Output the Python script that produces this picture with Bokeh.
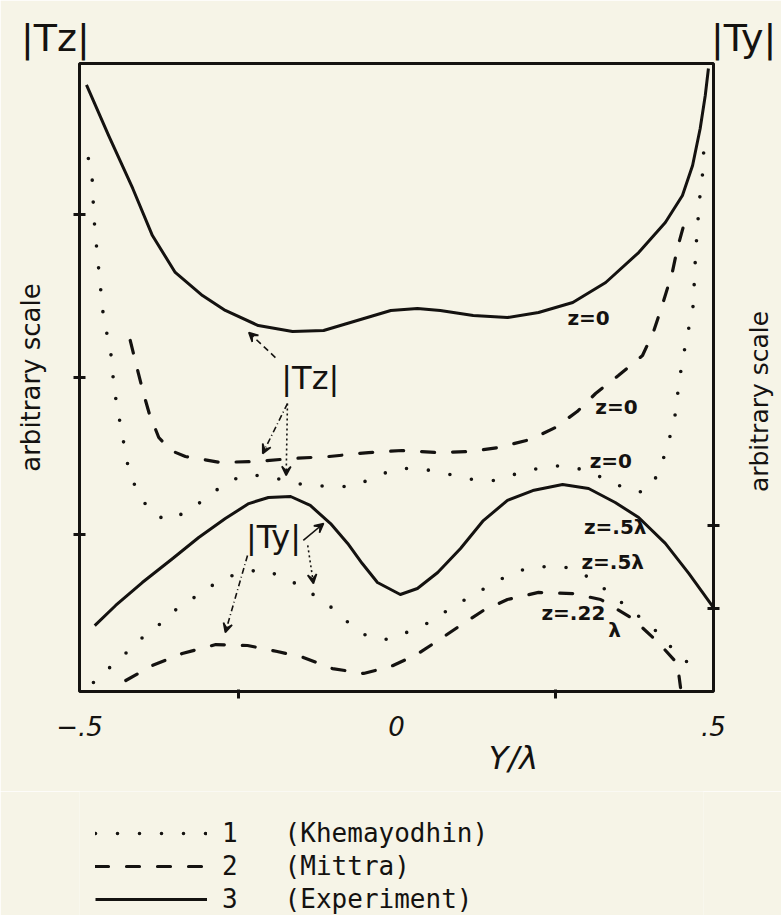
import math
from bokeh.plotting import figure
from bokeh.layouts import column
from bokeh.models import (Range1d, LinearAxis, FixedTicker, Label, Arrow, VeeHead,
                          Legend, LegendItem, ColumnDataSource)
from bokeh.core.properties import value
from bokeh.embed import file_html
from bokeh.resources import INLINE

# ---------------- data (Y/lambda vs arbitrary scale) ----------------
# |Tz|, z = 0, experiment (solid)
tz_exp_x = [-0.489, -0.454, -0.416, -0.385, -0.349, -0.306, -0.270, -0.218, -0.164, -0.115,
            -0.062, -0.009, 0.033, 0.069, 0.121, 0.175, 0.224, 0.278, 0.330, 0.382,
            0.424, 0.451, 0.467, 0.479, 0.487, 0.492]
tz_exp_y = [3.864, 3.541, 3.204, 2.904, 2.669, 2.522, 2.427, 2.331, 2.293, 2.299,
            2.363, 2.427, 2.439, 2.427, 2.395, 2.382, 2.414, 2.478, 2.605, 2.796,
            2.987, 3.159, 3.350, 3.586, 3.796, 3.968]

# |Tz|, z = 0, Khemayodhin (dotted)
tz_khe_x = [-0.486, -0.479, -0.478, -0.473, -0.468, -0.462, -0.451, -0.445, -0.435, -0.424,
            -0.418, -0.404, -0.386, -0.360, -0.331, -0.298, -0.267, -0.232, -0.196, -0.148,
            -0.107, -0.068, -0.028, 0.000, 0.038, 0.076, 0.120, 0.155, 0.191, 0.230,
            0.262, 0.293, 0.317, 0.341, 0.361, 0.382, 0.401, 0.416, 0.429, 0.440,
            0.445, 0.451, 0.459, 0.468, 0.472, 0.478, 0.483, 0.486]
tz_khe_y = [3.395, 3.236, 3.051, 2.828, 2.618, 2.376, 2.172, 1.917, 1.688, 1.446,
            1.357, 1.242, 1.134, 1.089, 1.146, 1.236, 1.338, 1.382, 1.363, 1.318,
            1.306, 1.306, 1.376, 1.420, 1.420, 1.389, 1.350, 1.344, 1.389, 1.427,
            1.439, 1.414, 1.376, 1.325, 1.299, 1.268, 1.299, 1.420, 1.586, 1.771,
            1.949, 2.108, 2.274, 2.459, 2.809, 3.134, 3.306, 3.567]

# |Tz|, z = 0, Mittra (dashed)
tz_mit_x = [-0.420, -0.407, -0.399, -0.390, -0.375, -0.356, -0.333, -0.278, -0.222, -0.164,
            -0.106, -0.044, 0.009, 0.063, 0.117, 0.161, 0.211, 0.251, 0.285, 0.314,
            0.350, 0.388, 0.405, 0.420, 0.435, 0.443, 0.456]
tz_mit_y = [2.236, 2.025, 1.898, 1.771, 1.618, 1.535, 1.497, 1.459, 1.465, 1.484,
            1.497, 1.522, 1.535, 1.522, 1.529, 1.554, 1.605, 1.682, 1.783, 1.898,
            2.013, 2.140, 2.287, 2.471, 2.669, 2.822, 3.013]

# |Ty|, z = .5 lambda, experiment (solid)
ty_exp_x = [-0.476, -0.443, -0.401, -0.353, -0.312, -0.270, -0.233, -0.202, -0.167, -0.136,
            -0.104, -0.077, -0.054, -0.030, 0.006, 0.033, 0.065, 0.101, 0.137, 0.175,
            0.215, 0.262, 0.303, 0.345, 0.382, 0.424, 0.461, 0.500]
ty_exp_y = [0.420, 0.548, 0.694, 0.847, 0.981, 1.102, 1.197, 1.236, 1.242, 1.185,
            1.070, 0.943, 0.815, 0.694, 0.618, 0.656, 0.758, 0.911, 1.089, 1.217,
            1.280, 1.318, 1.293, 1.204, 1.108, 0.943, 0.752, 0.535]

# |Ty|, z = .5 lambda, Khemayodhin (dotted)
ty_khe_x = [-0.478, -0.456, -0.432, -0.409, -0.379, -0.352, -0.319, -0.279, -0.246, -0.210,
            -0.170, -0.136, -0.098, -0.068, -0.043, -0.011, 0.011, 0.033, 0.060, 0.080,
            0.106, 0.136, 0.161, 0.185, 0.213, 0.237, 0.267, 0.298, 0.323, 0.355,
            0.404, 0.429, 0.459, 0.478]
ty_khe_y = [0.057, 0.140, 0.223, 0.318, 0.408, 0.510, 0.599, 0.707, 0.758, 0.777,
            0.713, 0.631, 0.522, 0.408, 0.344, 0.331, 0.369, 0.401, 0.459, 0.516,
            0.580, 0.650, 0.707, 0.758, 0.790, 0.796, 0.790, 0.739, 0.669, 0.567,
            0.408, 0.299, 0.185, 0.108]

# |Ty|, z = .22 lambda, Mittra (dashed)
ty_mit_x = [-0.427, -0.385, -0.338, -0.285, -0.235, -0.188, -0.147, -0.101, -0.052, -0.009,
            0.032, 0.068, 0.103, 0.137, 0.175, 0.224, 0.278, 0.322, 0.372, 0.413,
            0.443, 0.448]
ty_mit_y = [0.070, 0.166, 0.242, 0.299, 0.293, 0.255, 0.217, 0.146, 0.115, 0.159,
            0.236, 0.331, 0.427, 0.516, 0.586, 0.631, 0.624, 0.586, 0.465, 0.312,
            0.178, 0.025]

# axis ticks
x_ticks = [-0.5, 0.0, 0.5]
x_tick_labels = ["\u2212.5", "0", ".5"]
x_minor_ticks = [-0.25, 0.25]
left_ticks = [1.0, 2.0, 3.04]
right_ticks = [0.53, 1.06]
right_title_at = 1.27
corner_ticks = [-0.5, 0.5]
corner_labels = ["|Tz|" + "\u00a0" * 4, "\u00a0" * 5 + "|Ty|"]
x_title = "\u00a0" * 23 + "Y/\u03bb"
y_title = "arbitrary scale"

# curve annotations
ann_text = ["z=0", "z=0", "z=0", "z=.5\u03bb", "z=.5\u03bb", "z=.22", "\u03bb"]
ann_x = [0.303, 0.347, 0.338, 0.345, 0.341, 0.279, 0.344]
ann_y = [2.376, 1.809, 1.471, 1.045, 0.822, 0.497, 0.389]

# pointer arrows: (x_start, y_start, x_end, y_end, dash)
arrows = [
    (-0.191, 2.127, -0.233, 2.287, "6 4"),
    (-0.172, 1.834, -0.211, 1.516, "6 3 1 3"),
    (-0.172, 1.834, -0.174, 1.376, "2 3"),
    (-0.147, 0.962, -0.115, 1.070, "solid"),
    (-0.140, 0.930, -0.131, 0.688, "2 3"),
    (-0.235, 0.866, -0.270, 0.376, "6 3 1 3"),
]

legend_labels = ["1\u00a0\u00a0\u00a0(Khemayodhin)", "2\u00a0\u00a0\u00a0(Mittra)",
                 "3\u00a0\u00a0\u00a0(Experiment)"]

BG = "#f6f4e7"
INK = "#141210"
FONT = "DejaVu Sans"

p = figure(x_range=Range1d(-0.5, 0.5), y_range=Range1d(0, 4.0),
           frame_width=634, frame_height=628,
           min_border_left=79, min_border_right=68, min_border_top=63, min_border_bottom=100,
           output_backend="svg", toolbar_location=None, title=None,
           background_fill_color=BG, border_fill_color=BG,
           outline_line_color=INK, outline_line_width=3)
p.grid.visible = False

DOT = dict(line_dash="0 22", line_cap="round", line_width=3.6, line_color=INK)
DASH = dict(line_dash="13 18", line_cap="round", line_width=3.2, line_color=INK)
SOLID = dict(line_width=3, line_color=INK, line_join="round")

p.line(tz_khe_x, tz_khe_y, **DOT)
p.line(ty_khe_x, ty_khe_y, **DOT)
p.line(tz_mit_x, tz_mit_y, **DASH)
p.line(ty_mit_x, ty_mit_y, **DASH)
p.line(tz_exp_x, tz_exp_y, **SOLID)
p.line(ty_exp_x, ty_exp_y, **SOLID)

# bottom axis
xa = p.xaxis[0]
xa.ticker = FixedTicker(ticks=x_ticks, minor_ticks=x_minor_ticks)
xa.major_label_overrides = {t: l for t, l in zip(x_ticks, x_tick_labels)}
xa.axis_line_color = None
xa.major_tick_line_color = None
xa.major_tick_out = 7
xa.major_tick_in = 0
xa.minor_tick_line_color = INK
xa.minor_tick_line_width = 3
xa.minor_tick_out = 7
xa.minor_tick_in = 2
xa.major_label_standoff = 17
xa.major_label_text_font = FONT
xa.major_label_text_font_size = "26px"
xa.major_label_text_font_style = "italic"
xa.major_label_text_color = INK
xa.axis_label = x_title
xa.axis_label_standoff = 0
xa.axis_label_text_font = FONT
xa.axis_label_text_font_size = "32px"
xa.axis_label_text_font_style = "italic"
xa.axis_label_text_color = INK

# left axis
ya = p.yaxis[0]
ya.ticker = FixedTicker(ticks=[], minor_ticks=left_ticks)
ya.axis_line_color = None
ya.major_tick_line_color = None
ya.major_tick_out = 6
ya.major_label_standoff = 0
ya.minor_tick_line_color = INK
ya.minor_tick_line_width = 3
ya.minor_tick_out = 6
ya.minor_tick_in = 6
ya.axis_label = y_title
ya.axis_label_standoff = 28
ya.axis_label_text_font = FONT
ya.axis_label_text_font_size = "26px"
ya.axis_label_text_font_style = "normal"
ya.axis_label_text_color = INK

# right axis: its caption is carried as a tick label so it can read upward
yr = LinearAxis(ticker=FixedTicker(ticks=[right_title_at], minor_ticks=right_ticks),
                major_label_overrides={right_title_at: y_title},
                major_label_orientation=math.pi / 2,
                major_label_standoff=40,
                major_label_text_font=FONT, major_label_text_font_size="25px",
                major_label_text_color=INK,
                axis_line_color=None, major_tick_line_color=None, major_tick_out=6,
                minor_tick_line_color=INK, minor_tick_line_width=3,
                minor_tick_out=6, minor_tick_in=6)
p.add_layout(yr, "right")

# top axis carrying the |Tz| / |Ty| corner captions
ta = LinearAxis(ticker=FixedTicker(ticks=corner_ticks),
                major_label_overrides={t: l for t, l in zip(corner_ticks, corner_labels)},
                axis_line_color=None, major_tick_line_color=None, minor_tick_line_color=None,
                major_tick_out=0, major_tick_in=0, major_label_standoff=4,
                major_label_text_font=FONT, major_label_text_font_size="38px",
                major_label_text_color=INK)
p.add_layout(ta, "above")

# inside annotations
src = ColumnDataSource(dict(x=ann_x, y=ann_y, t=ann_text))
p.text(x="x", y="y", text="t", source=src, text_font=value(FONT), text_font_size="20px",
       text_font_style="bold", text_color=INK, text_align="center", text_baseline="middle")
p.add_layout(Label(x=-0.136, y=1.994, text="|Tz|", text_font=FONT, text_font_size="32px",
                   text_color=INK, text_align="center", text_baseline="middle"))
p.add_layout(Label(x=-0.194, y=0.981, text="|Ty|", text_font=FONT, text_font_size="32px",
                   text_color=INK, text_align="center", text_baseline="middle"))

for (xs, ys, xe, ye, dash) in arrows:
    p.add_layout(Arrow(x_start=xs, y_start=ys, x_end=xe, y_end=ye,
                       line_color=INK, line_width=1.6, line_dash=dash,
                       end=VeeHead(size=9, line_color=INK, line_width=1.6, fill_color=INK)))

# ---------------- legend strip below the chart ----------------
# the key's renderers reuse the series; this strip's y range keeps them out of view
q = figure(width=781, height=125, x_range=Range1d(-0.5, 0.5), y_range=Range1d(100, 101),
           x_axis_type=None, y_axis_type=None, min_border=0,
           output_backend="svg", toolbar_location=None, title=None,
           background_fill_color=BG, border_fill_color=BG, outline_line_color=None)
q.grid.visible = False
k_dot = q.line(tz_khe_x, tz_khe_y, **DOT)
k_dash = q.line(tz_mit_x, tz_mit_y, **DASH)
k_solid = q.line(tz_exp_x, tz_exp_y, **SOLID)

legend = Legend(items=[LegendItem(label=legend_labels[0], renderers=[k_dot]),
                       LegendItem(label=legend_labels[1], renderers=[k_dash]),
                       LegendItem(label=legend_labels[2], renderers=[k_solid])],
                location=(16, 2), orientation="vertical",
                glyph_width=112, glyph_height=30, label_height=30, spacing=3,
                label_standoff=15, padding=0, margin=0,
                label_text_font="DejaVu Sans Mono", label_text_font_size="26px",
                label_text_color=INK, background_fill_alpha=0, border_line_color=None)
q.add_layout(legend, "center")

layout = column(p, q, spacing=0)
open("out.html", "w").write(file_html(layout, INLINE))
